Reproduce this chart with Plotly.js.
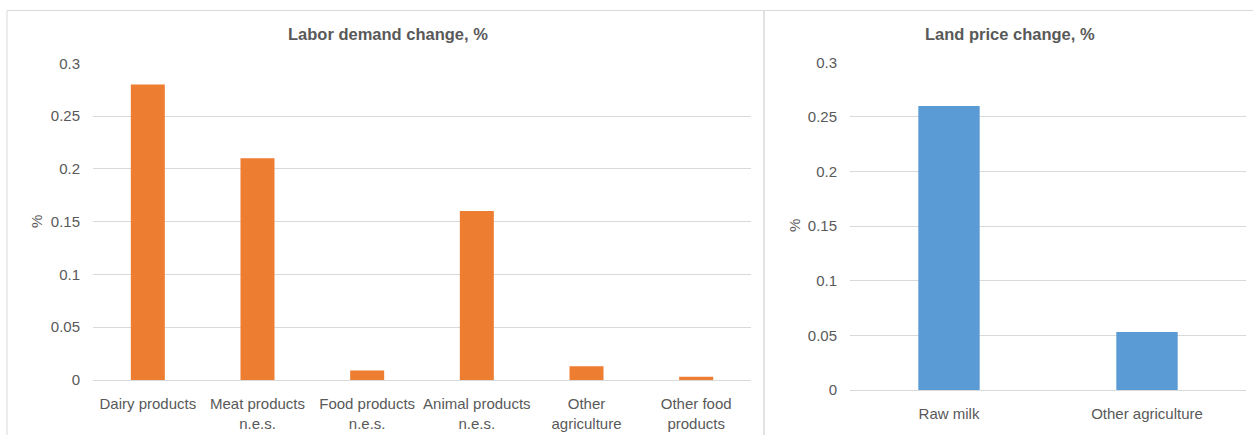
<!DOCTYPE html>
<html>
<head>
<meta charset="utf-8">
<script src="https://cdn.plot.ly/plotly-3.0.1.min.js"></script>
<style>html,body{margin:0;padding:0;background:#fff;}#chart{width:1253px;height:435px;}</style>
</head>
<body>
<div id="chart"></div>
<script>
const laborCategories = ["Dairy products", "Meat products<br>n.e.s.", "Food products<br>n.e.s.", "Animal products<br>n.e.s.", "Other<br>agriculture", "Other food<br>products"];
const laborValues = [0.28, 0.21, 0.009, 0.16, 0.013, 0.003];
const landCategories = ["Raw milk", "Other agriculture"];
const landValues = [0.26, 0.053];
const yTicks = [0, 0.05, 0.1, 0.15, 0.2, 0.25, 0.3];
const yTickLabels = ["0", "0.05", "0.1", "0.15", "0.2", "0.25", "0.3"];
const leftTitle = "Labor demand change, %";
const rightTitle = "Land price change, %";
const yTitle = "%";

const W = 1253, H = 435;
const px = v => v / W;
const py = v => 1 - v / H;

const FONT = "Liberation Sans, Arial, sans-serif";
const TXT = "#595959";
const GRID = "#d9d9d9";

const traces = [
  {type: "bar", x: laborCategories, y: laborValues, xaxis: "x", yaxis: "y",
   marker: {color: "#ed7d31"}, hoverinfo: "x+y"},
  {type: "bar", x: landCategories, y: landValues, xaxis: "x2", yaxis: "y2",
   marker: {color: "#5b9bd5"}, hoverinfo: "x+y"}
];

function yaxisDef(domain, anchor) {
  return {
    domain: domain, anchor: anchor, range: [0, 0.3], tickmode: "array",
    tickvals: yTicks, ticktext: yTickLabels, showgrid: true, gridcolor: GRID,
    gridwidth: 1, zeroline: false, showline: false, ticks: "",
    ticklabelstandoff: 12, tickfont: {family: FONT, size: 15, color: TXT}
  };
}
function xaxisDef(domain, anchor) {
  return {
    domain: domain, anchor: anchor, showgrid: false, zeroline: false,
    showline: true, linecolor: GRID, linewidth: 1, ticks: "outside", ticklen: 10,
    tickcolor: "rgba(0,0,0,0)", tickangle: 0,
    tickfont: {family: FONT, size: 15, color: TXT}
  };
}

const layout = {
  width: W, height: H,
  margin: {l: 0, r: 0, t: 0, b: 0},
  paper_bgcolor: "#fff", plot_bgcolor: "#fff",
  showlegend: false, bargap: 0.69,
  font: {family: FONT, color: TXT},
  xaxis: xaxisDef([px(93), px(751)], "y"),
  yaxis: yaxisDef([py(380), py(63.3)], "x"),
  xaxis2: xaxisDef([px(850), px(1246)], "y2"),
  yaxis2: yaxisDef([py(390), py(62.3)], "x2"),
  shapes: [
    {type: "rect", xref: "paper", yref: "paper", x0: px(7), x1: px(764), y0: -0.2, y1: py(10.5),
     line: {color: GRID, width: 1}, fillcolor: "rgba(0,0,0,0)", layer: "below"},
    {type: "rect", xref: "paper", yref: "paper", x0: px(764), x1: 1.2, y0: -0.2, y1: py(10.5),
     line: {color: GRID, width: 1}, fillcolor: "rgba(0,0,0,0)", layer: "below"}
  ],
  annotations: [
    {text: "<b>" + leftTitle + "</b>", xref: "paper", yref: "paper", x: px(387.5), y: py(34),
     xanchor: "center", yanchor: "middle", showarrow: false, font: {family: FONT, size: 16.5, color: TXT}},
    {text: "<b>" + rightTitle + "</b>", xref: "paper", yref: "paper", x: px(1010), y: py(34),
     xanchor: "center", yanchor: "middle", showarrow: false, font: {family: FONT, size: 16.5, color: TXT}},
    {text: yTitle, xref: "paper", yref: "paper", x: px(36), y: py(222), textangle: -90,
     xanchor: "center", yanchor: "middle", showarrow: false, font: {family: FONT, size: 15, color: TXT}},
    {text: yTitle, xref: "paper", yref: "paper", x: px(795), y: py(226), textangle: -90,
     xanchor: "center", yanchor: "middle", showarrow: false, font: {family: FONT, size: 15, color: TXT}}
  ]
};

Plotly.newPlot("chart", traces, layout, {displayModeBar: false, staticPlot: true});
</script>
</body>
</html>
